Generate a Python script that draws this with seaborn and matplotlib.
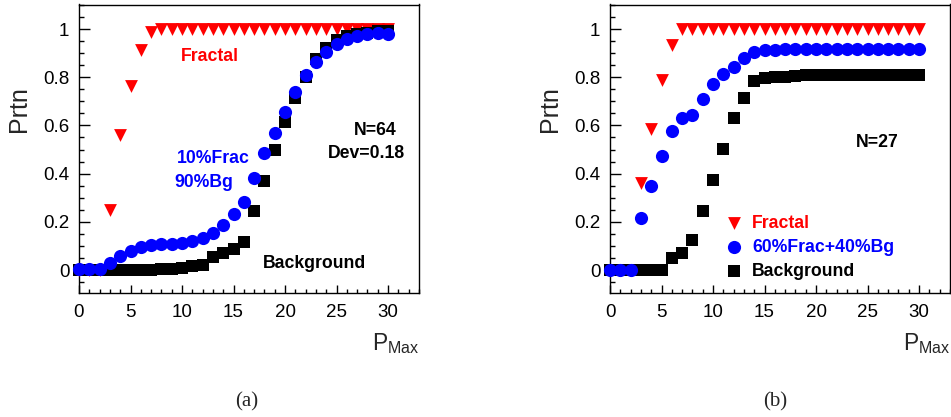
import numpy as np
import pandas as pd
import matplotlib
matplotlib.use("Agg")
import matplotlib.pyplot as plt
from matplotlib.ticker import MultipleLocator, FuncFormatter
import seaborn as sns

# ---------------- data ----------------
p_max = list(range(31))

a_fractal = [0, 0, 0, 0.25, 0.56, 0.763, 0.913, 0.989] + [1.0] * 23
a_mix = [0.003, 0.003, 0.003, 0.028, 0.058, 0.08, 0.097, 0.104, 0.107, 0.108,
         0.113, 0.12, 0.131, 0.152, 0.185, 0.232, 0.282, 0.383, 0.487, 0.57,
         0.654, 0.74, 0.809, 0.863, 0.903, 0.936, 0.959, 0.972, 0.979, 0.982, 0.979]
a_background = [0, 0, 0, 0, 0, 0, 0, 0, 0.003, 0.005, 0.01, 0.016, 0.02, 0.052,
                0.069, 0.086, 0.118, 0.246, 0.37, 0.497, 0.615, 0.712, 0.80,
                0.874, 0.92, 0.955, 0.97, 0.98, 0.985, 0.99, 0.99]

b_fractal = [0, 0, 0, 0.362, 0.584, 0.788, 0.934] + [1.0] * 24
b_mix = [0, 0, 0, 0.214, 0.349, 0.473, 0.577, 0.629, 0.643, 0.708, 0.77, 0.813,
         0.844, 0.878, 0.906, 0.911, 0.913] + [0.915] * 14
b_background = [0, 0, 0, 0, 0, 0, 0.048, 0.069, 0.124, 0.245, 0.373, 0.501,
                0.629, 0.715, 0.786, 0.795, 0.802, 0.802, 0.805] + [0.809] * 12

y_ticks = [0, 0.2, 0.4, 0.6, 0.8, 1.0]
x_ticks = [0, 5, 10, 15, 20, 25, 30]

# ---------------- style ----------------
sns.set_style("ticks")
plt.rcParams["font.family"] = ["Liberation Sans", "DejaVu Sans"]
plt.rcParams["mathtext.fontset"] = "custom"
plt.rcParams["mathtext.rm"] = "Liberation Sans"
plt.rcParams["mathtext.it"] = "Liberation Sans:italic"
plt.rcParams["mathtext.bf"] = "Liberation Sans:bold"

W, H = 951, 417
fig = plt.figure(figsize=(W / 100, H / 100), dpi=100)
fig.patch.set_facecolor("white")


def px_axes(l, t, r, b):
    return [l / W, 1 - b / H, (r - l) / W, (b - t) / H]


ax_a = fig.add_axes(px_axes(79, 4.5, 419, 293))
ax_b = fig.add_axes(px_axes(610, 4.5, 950, 293))

S_TRI, S_CIR, S_SQ = 85, 90, 72


def draw(ax, fr, mix, bg, labels):
    df = pd.DataFrame({"p": p_max, "fr": fr, "mix": mix, "bg": bg})
    sns.scatterplot(data=df, x="p", y="fr", marker="v", color="#ff0000", s=S_TRI,
                    linewidth=0, ax=ax, clip_on=False, zorder=3, label=labels[0])
    sns.scatterplot(data=df, x="p", y="bg", marker="s", color="black", s=S_SQ,
                    linewidth=0, ax=ax, clip_on=False, zorder=4, label=labels[2])
    sns.scatterplot(data=df, x="p", y="mix", marker="o", color="#0000ff", s=S_CIR,
                    linewidth=0, ax=ax, clip_on=False, zorder=5, label=labels[1])
    ax.set_xlim(0, 33)
    ax.set_ylim(-0.0954, 1.1017)
    ax.set_xlabel("")
    ax.set_ylabel("")
    ax.set_xticks(x_ticks)
    ax.set_yticks(y_ticks)
    ax.xaxis.set_minor_locator(MultipleLocator(1))
    ax.yaxis.set_minor_locator(MultipleLocator(0.05))
    ax.yaxis.set_major_formatter(FuncFormatter(lambda v, _: "%g" % v))
    ax.tick_params(axis="both", which="both", direction="in", top=False, right=False,
                   colors="black", labelsize=13.5, width=1)
    ax.tick_params(axis="y", which="major", length=8, pad=7)
    ax.tick_params(axis="y", which="minor", length=3.5)
    ax.tick_params(axis="x", which="major", length=5.5, pad=8)
    ax.tick_params(axis="x", which="minor", length=3)
    for sp in ax.spines.values():
        sp.set_visible(True)
        sp.set_color("black")
        sp.set_linewidth(1)
    ax.set_facecolor("white")


draw(ax_a, a_fractal, a_mix, a_background, ["Fractal", "10%Frac 90%Bg", "Background"])
if ax_a.get_legend():
    ax_a.get_legend().remove()
draw(ax_b, b_fractal, b_mix, b_background, ["Fractal", "60%Frac+40%Bg", "Background"])

# annotations panel (a)
fs = 12.7
ax_a.text(9.84, 0.867, "Fractal", color="#ff0000", fontsize=fs, fontweight="bold", va="baseline")
ax_a.text(26.72, 0.562, "N=64", color="black", fontsize=fs, fontweight="bold", va="baseline")
ax_a.text(24.2, 0.465, "Dev=0.18", color="black", fontsize=fs, fontweight="bold", va="baseline")
ax_a.text(9.46, 0.444, "10%Frac", color="#0000ff", fontsize=fs, fontweight="bold", va="baseline")
ax_a.text(9.29, 0.346, "90%Bg", color="#0000ff", fontsize=fs, fontweight="bold", va="baseline")
ax_a.text(17.81, 0.007, "Background", color="black", fontsize=fs, fontweight="bold", va="baseline")

# annotations panel (b)
ax_b.text(23.85, 0.512, "N=27", color="black", fontsize=fs, fontweight="bold", va="baseline")
h, l = ax_b.get_legend_handles_labels()
order = [l.index("Fractal"), l.index("60%Frac+40%Bg"), l.index("Background")]
leg = ax_b.legend([h[i] for i in order], [l[i] for i in order],
                  loc="upper left", bbox_to_anchor=(0.339, 0.271), frameon=False,
                  prop={"size": fs, "weight": "bold"}, handlelength=1.0,
                  handletextpad=0.52, labelspacing=0.4, borderpad=0, borderaxespad=0,
                  scatterpoints=1)
for t, c in zip(leg.get_texts(), ["#ff0000", "#0000ff", "black"]):
    t.set_color(c)

# axis titles
for dx in (0, 531):
    fig.text((19 + dx) / W, 1 - 109 / H, "Prtn", rotation=90, ha="center", va="center",
             fontsize=18)
    fig.text((372 + dx) / W, 1 - 350 / H, r"$\mathrm{P}_{\mathrm{Max}}$", ha="left",
             va="baseline", fontsize=16.5)

fig.text(246.7 / W, 1 - 402 / H, "(a)", family="Liberation Serif", fontsize=15,
         ha="center", va="center")
fig.text(775 / W, 1 - 402 / H, "(b)", family="Liberation Serif", fontsize=15,
         ha="center", va="center")

fig.savefig("out.png", dpi=100, facecolor="white")
